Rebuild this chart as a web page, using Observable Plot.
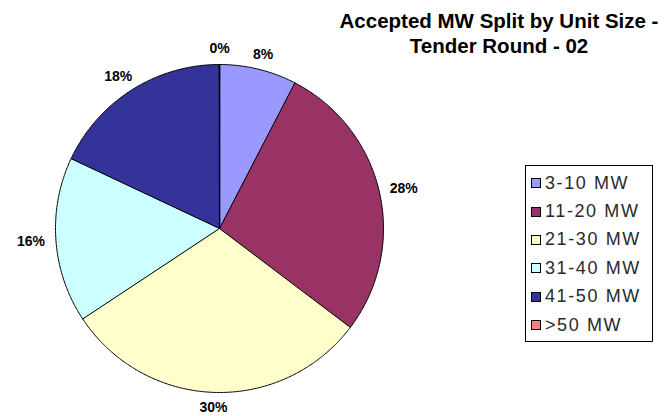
<!DOCTYPE html>
<html><head><meta charset="utf-8">
<script src="https://cdn.jsdelivr.net/npm/d3@7"></script>
<script src="https://cdn.jsdelivr.net/npm/@observablehq/plot@0.6"></script>
<style>
body{margin:0;background:#fff;}
#wrap{position:relative;width:668px;height:416px;overflow:hidden;font-family:Arial,"Liberation Sans",sans-serif;background:#fff;}
#chart{position:absolute;left:0;top:0;}
#title{position:absolute;left:330px;width:338px;top:8px;text-align:center;font-weight:bold;font-size:20.5px;line-height:25px;color:#000;}
#legend{position:absolute;left:525px;top:165px;width:128px;height:177px;border:1px solid #000;box-sizing:border-box;padding-top:3px;background:#fff;}
.row{display:flex;align-items:center;height:28.4px;padding-left:5px;font-size:18px;letter-spacing:1.6px;color:#2a2a2a;}
.sw{width:10px;height:10px;box-sizing:border-box;border:1px solid #000;margin-right:4px;flex:none;}
</style></head>
<body>
<div id="wrap">
  <div id="chart"></div>
  <div id="title">Accepted MW Split by Unit Size -<br>Tender Round - 02</div>
  <div id="legend"></div>
</div>
<script>
const categories = ["3-10 MW","11-20 MW","21-30 MW","31-40 MW","41-50 MW",">50 MW"];
const shares = [7.6, 27.7, 30.4, 16.3, 18.0, 0];
const labels = ["8%","28%","30%","16%","18%","0%"];
const colors = ["#9999FF","#993366","#FFFFCC","#CCFFFF","#333399","#FF8080"];

const W = 668, H = 416;
const cx = 219, cy = 228, r = 164;

const arcs = d3.pie().sort(null).value(d => d)(shares);
const pts = [];
arcs.forEach((a, i) => {
  const cat = categories[i];
  pts.push({cat, x: cx, y: cy});
  const n = Math.max(2, Math.ceil((a.endAngle - a.startAngle) * 180 / Math.PI * 2));
  for (let k = 0; k <= n; k++) {
    const t = a.startAngle + (a.endAngle - a.startAngle) * k / n;
    pts.push({cat, x: cx + r * Math.sin(t), y: cy - r * Math.cos(t)});
  }
});

// Label anchor: outside the rim along the slice's mid-angle, offset by half the text box
const labelData = arcs.map((a, i) => {
  const m = (a.startAngle + a.endAngle) / 2;
  const R = r + 10;
  const hw = labels[i].length * 5, hh = 5.5;
  return {
    text: labels[i],
    x: cx + (R + hw) * Math.sin(m),
    y: cy - (R + hh) * Math.cos(m)
  };
});

const plot = Plot.plot({
  width: W, height: H, margin: 0,
  style: {background: "transparent", overflow: "visible"},
  x: {domain: [0, W], range: [0, W], axis: null},
  y: {domain: [0, H], range: [0, H], axis: null},
  color: {domain: categories, range: colors},
  marks: [
    Plot.line(pts, {x: "x", y: "y", z: "cat", fill: "cat", stroke: "#000", strokeWidth: 1, curve: "linear-closed"}),
    Plot.text(labelData, {x: "x", y: "y", text: "text", fontWeight: "bold", fontSize: 14, fill: "#000", fontFamily: "Arial, 'Liberation Sans', sans-serif"})
  ]
});
document.getElementById("chart").appendChild(plot);

const lg = document.getElementById("legend");
categories.forEach((c, i) => {
  const row = document.createElement("div");
  row.className = "row";
  const sw = document.createElement("div");
  sw.className = "sw";
  sw.style.background = colors[i];
  const tx = document.createElement("span");
  tx.textContent = c;
  row.appendChild(sw); row.appendChild(tx);
  lg.appendChild(row);
});
</script>
</body></html>
